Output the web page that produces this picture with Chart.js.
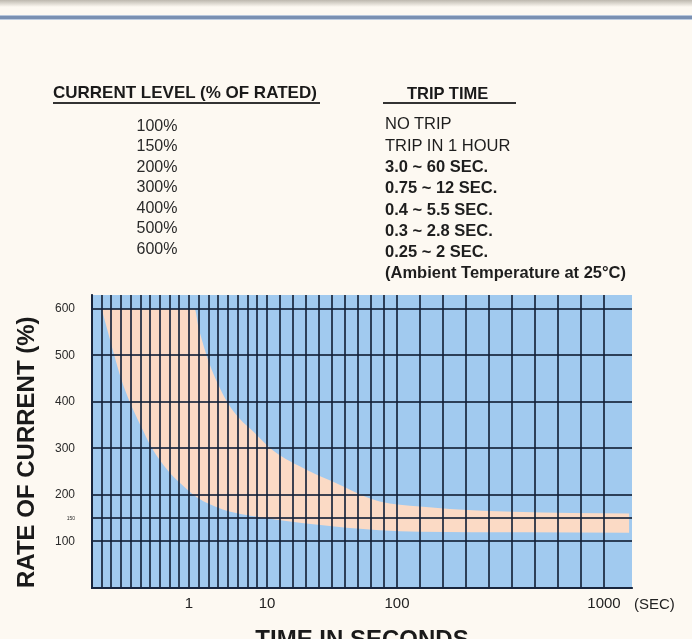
<!DOCTYPE html>
<html><head><meta charset="utf-8">
<script src="https://cdn.jsdelivr.net/npm/chart.js@4.4.1/dist/chart.umd.min.js"></script>
<style>
html,body{margin:0;padding:0;background:#fdf9f2;width:692px;height:639px;overflow:hidden;font-family:'Liberation Sans',Arial,Helvetica,sans-serif;color:#222}
#wrap{position:relative;width:692px;height:639px;overflow:hidden}
#c{position:absolute;left:0;top:0}
.t{position:absolute;white-space:nowrap}
</style></head><body>
<div id="wrap">
  <div style="position:absolute;left:0;top:0;width:692px;height:7px;background:linear-gradient(#bdb8ae,#fdf9f2)"></div>
  <div style="position:absolute;left:0;top:15px;width:692px;height:1px;background:#b7c6db"></div>
  <div style="position:absolute;left:0;top:16px;width:692px;height:3px;background:#7a90b2"></div>
  <div style="position:absolute;left:0;top:19px;width:692px;height:1px;background:#bccbe0"></div>
  <canvas id="c" width="692" height="660"></canvas>
  <div id="hdrL" class="t" style="left:53px;top:83px;font-size:17px;line-height:20px;font-weight:bold;color:#1a1a1a"></div>
  <div style="position:absolute;left:53px;top:102px;width:267px;height:2px;background:#333"></div>
  <div id="hdrR" class="t" style="left:407px;top:83px;font-size:16.5px;line-height:20px;font-weight:bold;color:#1a1a1a"></div>
  <div style="position:absolute;left:383px;top:102px;width:133px;height:2px;background:#333"></div>
  <div id="colL" class="t" style="left:117px;width:80px;top:115.75px;font-size:16px;line-height:20.5px;text-align:center;color:#2a2a2a"></div>
  <div id="colR" class="t" style="left:385px;top:113.4px;font-size:16.5px;line-height:21.3px;color:#1e1e1e"></div>
  <div id="secUnit" class="t" style="left:634px;top:595px;font-size:15px;line-height:18px;color:#222"></div>
</div>
<script>
// ---- table content ----
const tableHeaders = ['CURRENT LEVEL (% OF RATED)', 'TRIP TIME'];
const currentLevels = ['100%', '150%', '200%', '300%', '400%', '500%', '600%'];
const tripTimes = ['NO TRIP', 'TRIP IN 1 HOUR', '3.0 ~ 60 SEC.', '0.75 ~ 12 SEC.', '0.4 ~ 5.5 SEC.', '0.3 ~ 2.8 SEC.', '0.25 ~ 2 SEC.'];
const tripTimesBold = [false, false, true, true, true, true, true];
const ambientNote = '(Ambient Temperature at 25\u00B0C)';

// ---- curve data (time in seconds, rate of current in %) ----
const minTripSeconds = [0.1, 0.165, 0.23, 0.30, 0.39, 0.5, 0.62, 0.78, 0.91, 1.9, 4.9, 10, 42, 88, 200, 1110];
const minTripRate    = [600, 550, 500, 450, 400, 350, 300, 253, 225, 195, 169, 150, 137, 124, 121, 119];
const maxTripSeconds = [0.1, 1.65, 2.1, 2.7, 3.4, 4.3, 5.4, 6.8, 8.5, 14, 38, 58, 79, 88, 200, 330, 604, 1110];
const maxTripRate    = [600, 600, 560, 520, 480, 440, 400, 365, 335, 296, 253, 225, 195, 186, 175, 170, 164, 160];

// ---- axes ----
const xTickValues = [1, 10, 100, 1000];
const xTickLabels = ['1', '10', '100', '1000'];
const xUnitLabel = '(SEC)';
const yTickValues = [100, 150, 200, 300, 400, 500, 600];
const xSegmentBounds = [0, 1, 10, 100, 1000];
const xSegmentLines = [10, 8, 10, 9];

// fill text
document.getElementById('hdrL').textContent = tableHeaders[0];
document.getElementById('hdrR').textContent = tableHeaders[1];
document.getElementById('colL').innerHTML = currentLevels.map(s => '<div>' + s + '</div>').join('');
document.getElementById('colR').innerHTML = tripTimes.map((s, i) =>
  '<div style="font-weight:' + (tripTimesBold[i] ? 'bold' : 'normal') + '">' + s + '</div>').join('') +
  '<div style="font-weight:bold">' + ambientNote + '</div>';
document.getElementById('secUnit').textContent = xUnitLabel;

// piecewise x scale layout (value -> fraction of axis length)
const X_MAX = 1121.7;
const xKnots = [[0, 0], [1, 97 / 540], [10, 175 / 540], [100, 305 / 540], [1000, 512 / 540], [X_MAX, 1]];
function segToDecimal(v) {
  for (let i = 1; i < xKnots.length; i++) {
    if (v <= xKnots[i][0] || i === xKnots.length - 1) {
      const [a, fa] = xKnots[i - 1], [b, fb] = xKnots[i];
      return fa + (v - a) / (b - a) * (fb - fa);
    }
  }
}
function segFromDecimal(d) {
  for (let i = 1; i < xKnots.length; i++) {
    if (d <= xKnots[i][1] || i === xKnots.length - 1) {
      const [a, fa] = xKnots[i - 1], [b, fb] = xKnots[i];
      return a + (d - fa) / (fb - fa) * (b - a);
    }
  }
}
class SegmentedScale extends Chart.LinearScale {
  getPixelForValue(value) {
    if (value === null || value === undefined || isNaN(value)) return NaN;
    return this.getPixelForDecimal(segToDecimal(value));
  }
  getValueForPixel(pixel) {
    return segFromDecimal(this.getDecimalForPixel(pixel));
  }
}
SegmentedScale.id = 'segmented';
SegmentedScale.defaults = {};
Chart.register(SegmentedScale);

const xGridValues = [0];
for (let i = 0; i < xSegmentLines.length; i++) {
  const a = xSegmentBounds[i], b = xSegmentBounds[i + 1], n = xSegmentLines[i];
  for (let k = 1; k <= n; k++) xGridValues.push(+(a + (b - a) * k / n).toFixed(6));
}

const FONT = "'Liberation Sans', Arial, Helvetica, sans-serif";
Chart.defaults.font.family = FONT;
const gridColor = 'rgba(18,32,55,0.82)';

const plotBg = {
  id: 'plotBg',
  beforeDraw(chart) {
    const {ctx, chartArea: a} = chart;
    ctx.save();
    ctx.fillStyle = '#a1caef';
    ctx.fillRect(a.left, a.top, a.right - a.left, a.bottom - a.top);
    ctx.restore();
  }
};

new Chart(document.getElementById('c'), {
  type: 'line',
  data: {
    datasets: [
      {
        label: 'Minimum trip',
        data: minTripSeconds.map((x, i) => ({x, y: minTripRate[i]})),
        borderWidth: 0, borderColor: 'rgba(0,0,0,0)', pointRadius: 0,
        cubicInterpolationMode: 'monotone', fill: false
      },
      {
        label: 'Maximum trip',
        data: maxTripSeconds.map((x, i) => ({x, y: maxTripRate[i]})),
        borderWidth: 0, borderColor: 'rgba(0,0,0,0)', pointRadius: 0,
        cubicInterpolationMode: 'monotone', fill: '-1',
        backgroundColor: '#fbdac5'
      }
    ]
  },
  options: {
    responsive: false,
    animation: false,
    layout: {padding: {left: 0, right: 60, top: 295, bottom: 5}},
    plugins: {legend: {display: false}, tooltip: {enabled: false}},
    scales: {
      x: {
        type: 'segmented', min: 0, max: X_MAX,
        afterBuildTicks: s => { s.ticks = xGridValues.map(v => ({value: v})); },
        afterFit: s => { s.height = 67; },
        ticks: {
          autoSkip: false, maxRotation: 0, minRotation: 0, padding: 7, color: '#222',
          font: {size: 15, family: FONT},
          callback: v => {
            const i = xTickValues.findIndex(t => Math.abs(t - v) < 1e-6);
            return i >= 0 ? xTickLabels[i] : '';
          }
        },
        grid: {color: gridColor, lineWidth: 2, drawTicks: false, z: 1},
        border: {display: true, color: gridColor, width: 2, z: 1},
        title: {display: true, text: 'TIME IN SECONDS', color: '#1a1a1a',
                font: {size: 24, weight: 'bold', family: FONT}, padding: {top: 0, bottom: 0}}
      },
      y: {
        type: 'linear', min: 0, max: 630,
        afterBuildTicks: s => { s.ticks = [0].concat(yTickValues).map(v => ({value: v})); },
        afterFit: s => { s.width = 92; },
        ticks: {
          padding: 17, color: '#2a2a2a',
          font: ctx => ({size: (ctx.tick && ctx.tick.value === 150) ? 5 : 12, family: FONT}),
          callback: v => (v === 0 ? '' : String(v))
        },
        grid: {color: gridColor, lineWidth: 2, drawTicks: false, z: 1},
        border: {display: true, color: gridColor, width: 2, z: 1},
        title: {display: true, text: 'RATE OF CURRENT (%)', align: 'start', color: '#1a1a1a',
                font: {size: 24, weight: 'bold', family: FONT}, padding: {top: 13, bottom: 0}}
      }
    }
  },
  plugins: [plotBg]
});
</script>
</body></html>
